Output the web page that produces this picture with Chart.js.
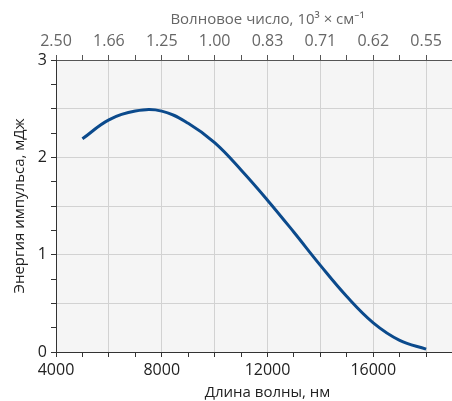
<!DOCTYPE html>
<html>
<head>
<meta charset="utf-8">
<script src="https://cdn.jsdelivr.net/npm/chart.js@4.4.1/dist/chart.umd.min.js"></script>
<style>
    body { margin: 0; background: #fff; }
    #wrap { width: 452px; height: 401px; overflow: hidden; position: relative; }
    #box { width: 483px; height: 401px; }
</style>
</head>
<body>
<div id="wrap"><div id="box"><canvas id="pulseChart"></canvas></div></div>
<script>
const wavelengths = [5000, 6000, 7000, 8000, 9000, 10000, 11000, 12000, 13000, 14000, 15000, 16000, 17000, 18000];
const energies = [2.19, 2.385, 2.475, 2.475, 2.35, 2.15, 1.87, 1.56, 1.23, 0.89, 0.57, 0.30, 0.12, 0.03];
const bottomLabels = [4000, 8000, 12000, 16000];
const topTickLabels = ['2.50', '1.66', '1.25', '1.00', '0.83', '0.71', '0.62', '0.55'];
const energyLabels = [0, 1, 2, 3];

const FONT = '"Open Sans", "Noto Sans", sans-serif';
const GRID = '#d2d2d2';
const AXIS = '#333';

function stepTicks(from, to, step) {
    const out = [];
    for (let v = from; v <= to + 1e-9; v += step) out.push({ value: Math.round(v * 1000) / 1000 });
    return out;
}

const plotBackground = {
    id: 'plotBackground',
    beforeDraw(chart) {
        const { ctx, chartArea } = chart;
        ctx.save();
        ctx.fillStyle = '#f5f5f5';
        ctx.fillRect(chartArea.left, chartArea.top, chartArea.right - chartArea.left, chartArea.bottom - chartArea.top);
        ctx.restore();
    }
};

const ctx = document.getElementById('pulseChart').getContext('2d');
new Chart(ctx, {
    type: 'line',
    data: {
        datasets: [{
            data: wavelengths.map((w, i) => ({ x: w, y: energies[i] })),
            borderColor: '#0b4a8c',
            borderWidth: 3,
            pointRadius: 0,
            tension: 0.4,
            fill: false,
            xAxisID: 'x',
            yAxisID: 'y'
        }]
    },
    options: {
        responsive: true,
        maintainAspectRatio: false,
        animation: false,
        layout: { padding: 0 },
        plugins: { legend: { display: false }, tooltip: { enabled: false } },
        scales: {
            x: {
                type: 'linear',
                position: 'bottom',
                min: 4000,
                max: 20000,
                afterBuildTicks: s => { s.ticks = stepTicks(4000, 20000, 1000); },
                afterFit: s => { s.height = 49; },
                border: { color: AXIS },
                grid: {
                    color: c => (c.tick && c.tick.value % 2000 === 0) ? GRID : 'rgba(0,0,0,0)',
                    tickColor: AXIS,
                    tickLength: 5
                },
                ticks: {
                    autoSkip: false,
                    maxRotation: 0,
                    padding: 4,
                    color: '#222',
                    font: { family: FONT, size: 16 },
                    callback: v => bottomLabels.includes(v) ? String(v) : ''
                },
                title: {
                    display: true,
                    text: 'Длина волны, нм',
                    color: '#222',
                    font: { family: FONT, size: 15, lineHeight: 1 },
                    padding: { top: 0, bottom: 1 }
                }
            },
            x2: {
                type: 'linear',
                position: 'top',
                min: 4000,
                max: 20000,
                afterBuildTicks: s => { s.ticks = stepTicks(4000, 20000, 1000); },
                afterFit: s => { s.height = 60; },
                border: { color: '#555' },
                grid: {
                    drawOnChartArea: false,
                    tickColor: '#555',
                    tickLength: 5
                },
                ticks: {
                    autoSkip: false,
                    maxRotation: 0,
                    padding: 4,
                    color: '#666',
                    font: { family: FONT, size: 16 },
                    callback: v => (v % 2000 === 0 && v <= 18000) ? topTickLabels[(v - 4000) / 2000] : ''
                },
                title: {
                    display: true,
                    text: 'Волновое число, 10³ × см⁻¹',
                    color: '#666',
                    font: { family: FONT, size: 15, lineHeight: 1 },
                    padding: { top: 12, bottom: 0 }
                }
            },
            y: {
                type: 'linear',
                min: 0,
                max: 3,
                afterBuildTicks: s => { s.ticks = stepTicks(0, 3, 0.25); },
                afterFit: s => { s.width = 56; },
                border: { color: AXIS },
                grid: {
                    color: c => (c.tick && Math.abs(c.tick.value * 2 - Math.round(c.tick.value * 2)) < 1e-6) ? GRID : 'rgba(0,0,0,0)',
                    tickColor: AXIS,
                    tickLength: 5
                },
                ticks: {
                    autoSkip: false,
                    padding: 4,
                    color: '#222',
                    font: { family: FONT, size: 16 },
                    callback: v => energyLabels.includes(v) ? String(v) : ''
                },
                title: {
                    display: true,
                    text: 'Энергия импульса, мДж',
                    color: '#222',
                    font: { family: FONT, size: 15, lineHeight: 1 },
                    padding: { top: 12, bottom: 0 }
                }
            }
        }
    },
    plugins: [plotBackground]
});
</script>
</body>
</html>
